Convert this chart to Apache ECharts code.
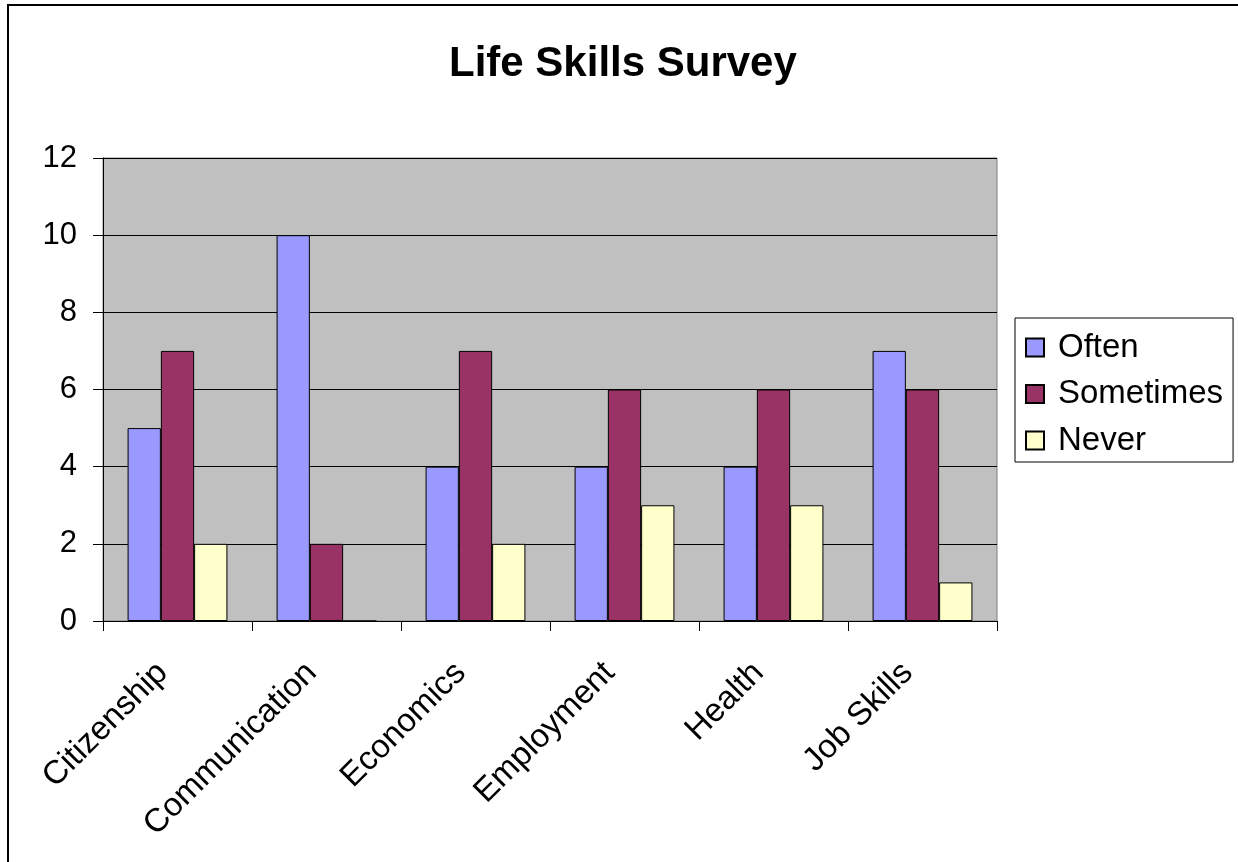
<!DOCTYPE html>
<html>
<head>
<meta charset="utf-8">
<script src="https://cdn.jsdelivr.net/npm/echarts@6/dist/echarts.min.js"></script>
<style>
html,body{margin:0;padding:0;background:#fff;}
#chart{width:1238px;height:862px;}
</style>
</head>
<body>
<div id="chart"></div>
<script>
var categories = ['Citizenship', 'Communication', 'Economics', 'Employment', 'Health', 'Job Skills'];
var often = [5, 10, 4, 4, 4, 7];
var sometimes = [7, 2, 7, 6, 6, 6];
var never = [2, 0, 2, 3, 3, 1];
var yTicks = { min: 0, max: 12, interval: 2 };

var font = 'Liberation Sans, Arial, sans-serif';
var chart = echarts.init(document.getElementById('chart'));
function barSeries(name, data, color) {
  return {
    name: name, type: 'bar', data: data,
    barGap: '0%', barCategoryGap: '33%',
    itemStyle: { color: color, borderColor: '#000', borderWidth: 1 },
    emphasis: { disabled: true }
  };
}
chart.setOption({
  animation: false,
  backgroundColor: '#fff',
  title: {
    text: 'Life Skills Survey', left: 444, top: 38,
    textStyle: { fontFamily: font, fontSize: 42, fontWeight: 'bold', color: '#000' }
  },
  graphic: [{
    type: 'rect', shape: { x: 8, y: 5, width: 1400, height: 1000 },
    style: { fill: 'none', stroke: '#000', lineWidth: 2 }, silent: true
  }],
  legend: {
    orient: 'vertical', left: 1015, top: 318,
    padding: [13, 10, 5, 10],
    itemGap: 13.5, itemWidth: 18, itemHeight: 18,
    borderColor: '#000', borderWidth: 1,
    icon: 'rect',
    textStyle: { fontFamily: font, fontSize: 33, color: '#000', lineHeight: 32, padding: [0, 0, 0, 9] },
    data: ['Often', 'Sometimes', 'Never']
  },
  grid: {
    left: 103, right: 241, top: 158, bottom: 241,
    show: true, backgroundColor: '#C0C0C0', borderColor: '#808080', borderWidth: 1
  },
  xAxis: {
    type: 'category', data: categories,
    axisLine: { lineStyle: { color: '#000', width: 1 } },
    axisTick: { show: true, length: 10, lineStyle: { color: '#000' } },
    axisLabel: { rotate: 45, margin: 32, padding: [0, 21, 0, 0], fontFamily: font, fontSize: 33, color: '#000', interval: 0 }
  },
  yAxis: {
    type: 'value', min: yTicks.min, max: yTicks.max, interval: yTicks.interval,
    axisLine: { show: true, lineStyle: { color: '#000', width: 1 } },
    axisTick: { show: true, length: 10, lineStyle: { color: '#000' } },
    splitLine: { show: true, lineStyle: { color: '#000', width: 1 } },
    axisLabel: { margin: 26, fontFamily: font, fontSize: 31, color: '#000' }
  },
  series: [
    barSeries('Often', often, '#9999FF'),
    barSeries('Sometimes', sometimes, '#993366'),
    barSeries('Never', never, '#FFFFCC')
  ]
});
</script>
</body>
</html>
